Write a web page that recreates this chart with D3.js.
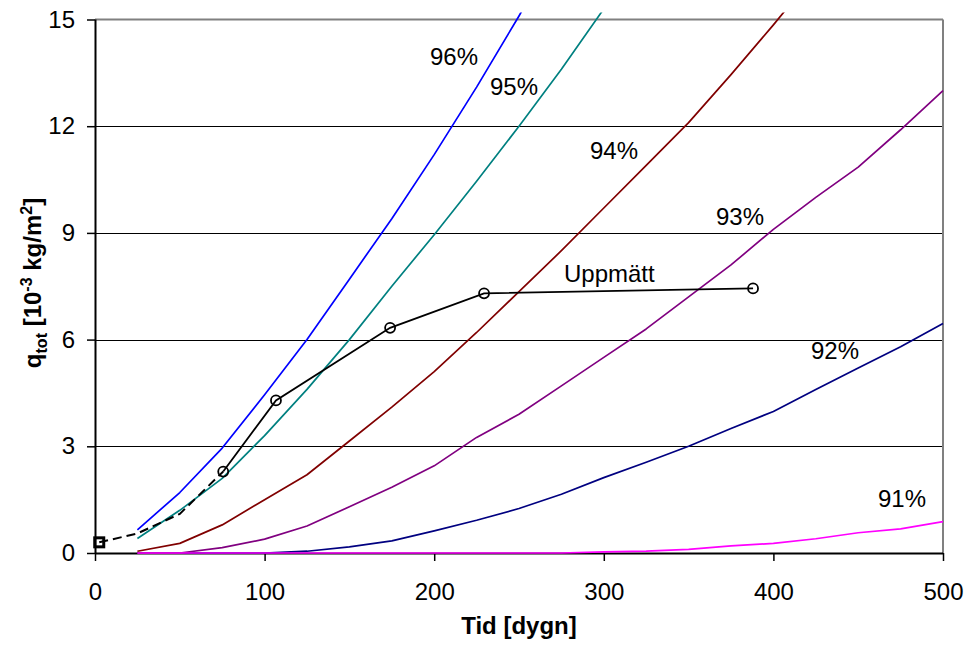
<!DOCTYPE html>
<html>
<head>
<meta charset="utf-8">
<script src="https://cdn.jsdelivr.net/npm/d3@7"></script>
<style>
  html, body { margin: 0; padding: 0; background: #fff; }
  svg { display: block; font-family: "Liberation Sans", Arial, sans-serif; }
</style>
</head>
<body>
<svg id="chart" width="970" height="646"></svg>
<script>
// ---- data ----
const days = [25, 50, 75, 100, 125, 150, 175, 200, 225, 250, 275, 300, 325, 350, 375, 400, 425, 450, 475, 500];
const rh96 = [0.65, 1.7, 2.95, 4.45, 6.0, 7.7, 9.4, 11.2, 13.1, 15.1, 17.2];
const rh95 = [0.41, 1.2, 2.1, 3.3, 4.6, 6.0, 7.5, 8.95, 10.45, 12.0, 13.6, 15.3, 17.0];
const rh94 = [0.05, 0.27, 0.79, 1.5, 2.2, 3.15, 4.1, 5.1, 6.2, 7.35, 8.5, 9.7, 10.9, 12.1, 13.45, 14.85, 16.3];
const rh93 = [0, 0, 0.15, 0.39, 0.76, 1.3, 1.85, 2.45, 3.25, 3.9, 4.7, 5.5, 6.3, 7.2, 8.1, 9.1, 10.0, 10.85, 11.9, 13.0];
const rh92 = [0, 0, 0, 0, 0.05, 0.17, 0.34, 0.62, 0.92, 1.25, 1.65, 2.12, 2.55, 3.0, 3.5, 3.98, 4.6, 5.2, 5.8, 6.45];
const rh91 = [0, 0, 0, 0, 0, 0, 0, 0, 0, 0, 0, 0.03, 0.05, 0.1, 0.2, 0.27, 0.4, 0.57, 0.68, 0.88];
const measDays = [75.6, 106.7, 174, 229.4, 388];
const measVals = [2.29, 4.29, 6.33, 7.3, 7.44];
const dashDays = [2.5, 25, 50, 75.6];
const dashVals = [0.3, 0.55, 1.1, 2.29];
const xTicks = [0, 100, 200, 300, 400, 500];
const yTicks = [0, 3, 6, 9, 12, 15];
const seriesNames = ["92%", "93%", "94%", "95%", "96%", "91%"];
const seriesVals = [rh92, rh93, rh94, rh95, rh96, rh91];
const seriesColors = ["#000080", "#800080", "#800000", "#008080", "#0000FF", "#FF00FF"];
const labelText = ["96%", "95%", "94%", "93%", "92%", "91%", "Uppmätt"];
const labelPos = [[430, 65], [490, 95], [590, 159], [716, 225], [811, 359], [878, 507], [564, 282]];

// ---- chart ----
const svg = d3.select("#chart");
const x = d3.scaleLinear().domain([0, 500]).range([95, 943]);
const y = d3.scaleLinear().domain([0, 15]).range([553, 19.5]);

svg.append("defs").append("clipPath").attr("id", "clip")
  .append("rect").attr("x", 95).attr("y", 12.5).attr("width", 860).attr("height", 545);

// gridlines
svg.append("g").selectAll("line").data(yTicks.filter(d => d > 0 && d < 15)).join("line")
  .attr("x1", x(0)).attr("x2", x(500)).attr("y1", d => Math.round(y(d)) + 0.5).attr("y2", d => Math.round(y(d)) + 0.5)
  .attr("stroke", "#000").attr("stroke-width", 1.2);

// plot border (top/right) grey
svg.append("line").attr("x1", x(0)).attr("x2", x(500)).attr("y1", y(15)).attr("y2", y(15))
  .attr("stroke", "#808080").attr("stroke-width", 2);
svg.append("line").attr("x1", x(500)).attr("x2", x(500)).attr("y1", y(15)).attr("y2", y(0))
  .attr("stroke", "#808080").attr("stroke-width", 2);

// axes
const xAxis = d3.axisBottom(x).tickValues(xTicks).tickSize(8).tickPadding(22).tickFormat(d3.format("d"));
const yAxis = d3.axisLeft(y).tickValues(yTicks).tickSize(8).tickPadding(12).tickFormat(d3.format("d"));
const gx = svg.append("g").attr("transform", `translate(0,${y(0)})`).call(xAxis);
const gy = svg.append("g").attr("transform", `translate(${x(0)},0)`).call(yAxis);
[gx, gy].forEach(g => {
  g.select(".domain").attr("stroke", "#000").attr("stroke-width", 2);
  g.selectAll(".tick line").attr("stroke", "#000").attr("stroke-width", 1.5);
  g.selectAll(".tick text").attr("fill", "#000").attr("font-size", 24)
    .attr("font-family", "'Liberation Sans', Arial, sans-serif");
});
gx.select(".domain").attr("d", `M${x(0)},0.5H${x(500)}`);
gy.select(".domain").attr("d", `M0.5,${y(15)}V${y(0)}`);

// series
const line = d3.line().x(d => x(d[0])).y(d => y(d[1]));
const plot = svg.append("g").attr("clip-path", "url(#clip)");
seriesVals.forEach((vals, i) => {
  const pts = vals.map((v, j) => [days[j], v]);
  plot.append("path").attr("d", line(pts)).attr("fill", "none")
    .attr("stroke", seriesColors[i]).attr("stroke-width", 1.7).attr("stroke-linejoin", "round");
});

// measured
const dashPts = dashDays.map((d, i) => [d, dashVals[i]]);
plot.append("path").attr("d", line(dashPts)).attr("fill", "none")
  .attr("stroke", "#000").attr("stroke-width", 2).attr("stroke-dasharray", "9,5");
const measPts = measDays.map((d, i) => [d, measVals[i]]);
plot.append("path").attr("d", line(measPts)).attr("fill", "none")
  .attr("stroke", "#000").attr("stroke-width", 1.8);
svg.append("g").selectAll("circle").data(measPts).join("circle")
  .attr("cx", d => x(d[0])).attr("cy", d => y(d[1])).attr("r", 5)
  .attr("fill", "none").attr("stroke", "#000").attr("stroke-width", 1.8);
svg.append("rect").attr("x", x(dashDays[0]) - 4.5).attr("y", y(dashVals[0]) - 4.5)
  .attr("width", 9).attr("height", 9).attr("fill", "none").attr("stroke", "#000").attr("stroke-width", 3);

// curve labels
svg.append("g").selectAll("text").data(labelText).join("text")
  .attr("x", (d, i) => labelPos[i][0]).attr("y", (d, i) => labelPos[i][1])
  .attr("font-size", 24).attr("fill", "#000").text(d => d);

// axis titles
svg.append("text").attr("x", (x(0) + x(500)) / 2).attr("y", 634).attr("text-anchor", "middle")
  .attr("font-size", 24).attr("font-weight", "bold").text("Tid [dygn]");

const yt = svg.append("text").attr("transform", "translate(41,283) rotate(-90)")
  .attr("text-anchor", "middle").attr("font-size", 24).attr("font-weight", "bold");
yt.append("tspan").text("q");
yt.append("tspan").attr("font-size", 16).attr("dy", 6).text("tot");
yt.append("tspan").attr("dy", -6).text("  [10");
yt.append("tspan").attr("font-size", 16).attr("dy", -9).text("-3");
yt.append("tspan").attr("dy", 9).text(" kg/m");
yt.append("tspan").attr("font-size", 16).attr("dy", -9).text("2");
yt.append("tspan").attr("dy", 9).text("]");
</script>
</body>
</html>
